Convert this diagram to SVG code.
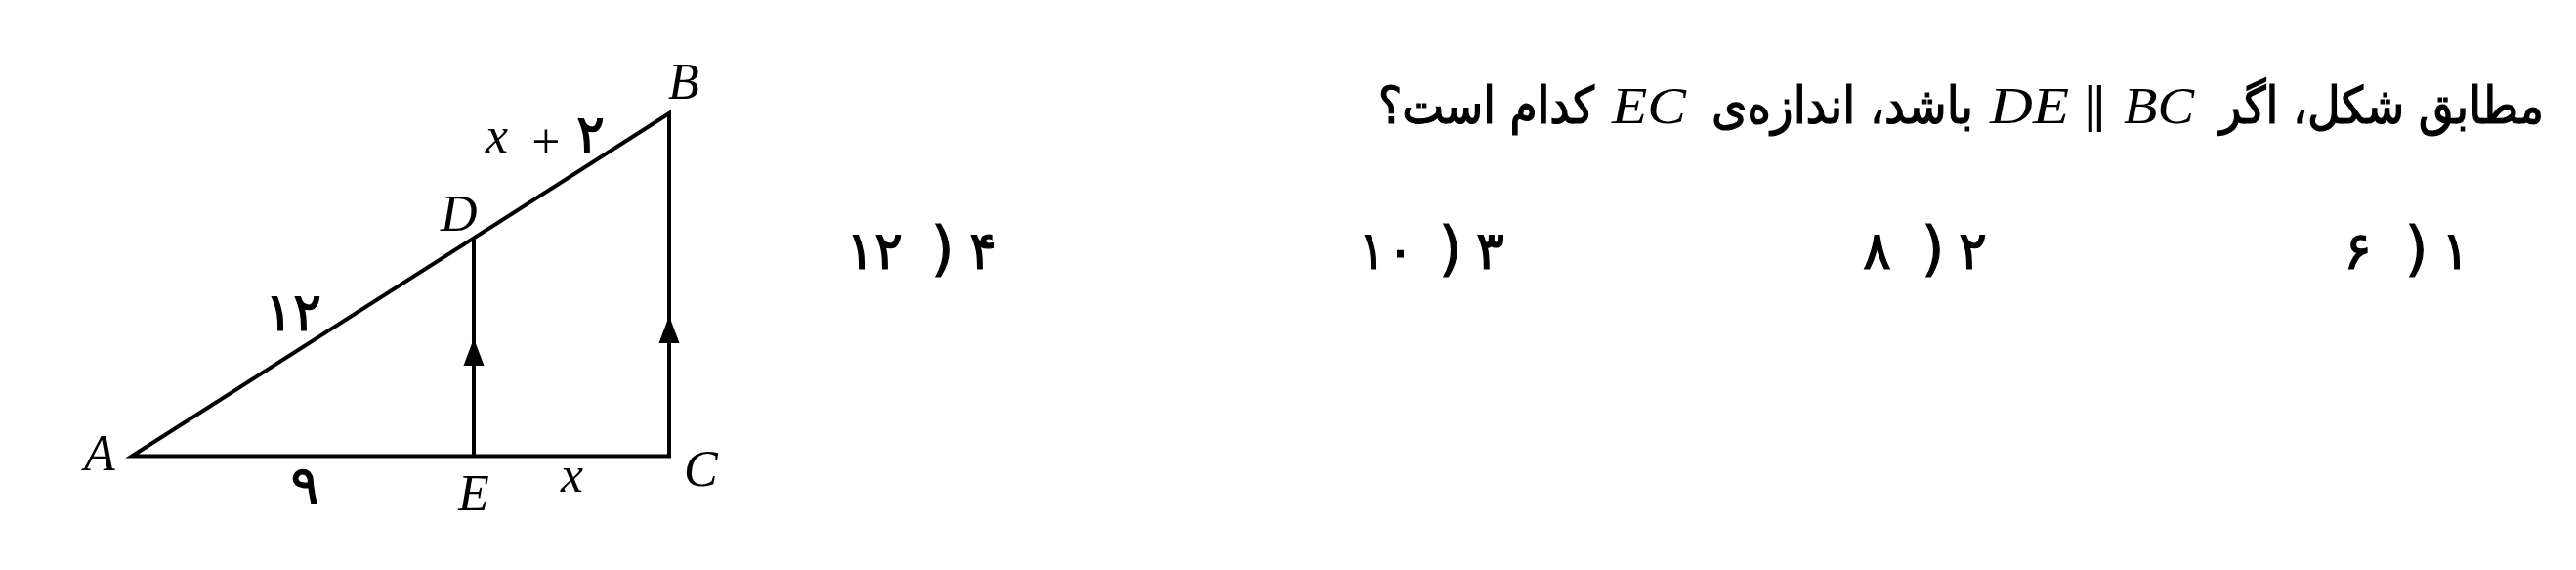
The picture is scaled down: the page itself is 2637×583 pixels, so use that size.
<svg xmlns="http://www.w3.org/2000/svg" width="2637" height="583" viewBox="0 0 2637 583">
<style>
.ln{stroke:#000;stroke-width:4;fill:none;stroke-linejoin:miter}
.m{font-family:"Liberation Serif","DejaVu Serif",serif;font-style:italic;font-size:52px;fill:#000}
.r{font-family:"Liberation Serif","DejaVu Serif",serif;font-size:52px;fill:#000}
.fa{font-family:"DejaVu Sans",sans-serif;font-size:54px;fill:#000;stroke:#000;stroke-width:1.2}
.q{font-family:"DejaVu Sans Condensed","DejaVu Sans",sans-serif;font-size:52px}
</style>
<defs><path id="arr" d="M0,0 L-10.5,28 L10.5,28 Z" fill="#000"/></defs>
<rect width="2637" height="583" fill="#fff"/>
<g id="connectors">
<path class="ln" d="M135,466.5 L685,116 L685,466.5 Z"/>
<line class="ln" x1="485" y1="466.5" x2="485" y2="244.5"/>
<use href="#arr" x="485" y="346"/>
<use href="#arr" x="685" y="323"/>
</g>
<g id="nodeA"><text class="m" x="86" y="481">A</text></g>
<g id="nodeB"><text class="m" x="684" y="101">B</text></g>
<g id="nodeC"><text class="m" x="700" y="497">C</text></g>
<g id="nodeD"><text class="m" x="451" y="236">D</text></g>
<g id="nodeE"><text class="m" x="469" y="522">E</text></g>
<g id="labelAD"><text class="fa" x="300" y="338" text-anchor="middle">۱۲</text></g>
<g id="labelDB"><text class="m" x="497" y="156">x</text><text class="r" x="559" y="162" text-anchor="middle" font-size="72">+</text><text class="fa" x="604.5" y="156" text-anchor="middle">۲</text></g>
<g id="labelAE"><text class="fa" x="312" y="515" text-anchor="middle" font-size="46">۹</text></g>
<g id="labelEC"><text class="m" x="574" y="503">x</text></g>
<g id="question">
<text class="fa q" x="2272" y="126" textLength="332" lengthAdjust="spacingAndGlyphs">مطابق شکل، اگر</text>
<text class="m" x="2174" y="126" textLength="72" lengthAdjust="spacingAndGlyphs">BC</text>
<text class="r" x="2144" y="130" text-anchor="middle" font-family="DejaVu Sans">∥</text>
<text class="m" x="2037" y="126" textLength="81" lengthAdjust="spacingAndGlyphs">DE</text>
<text class="fa q" x="1752" y="126" textLength="268" lengthAdjust="spacingAndGlyphs">باشد، اندازه‌ی</text>
<text class="m" x="1650" y="126" textLength="76" lengthAdjust="spacingAndGlyphs">EC</text>
<text class="fa q" x="1411" y="126" textLength="221" lengthAdjust="spacingAndGlyphs">کدام است؟</text>
</g>
<g id="opt1"><text class="fa" y="275"><tspan x="2399">۶</tspan><tspan x="2462" font-size="60">)</tspan><tspan x="2499">۱</tspan></text></g>
<g id="opt2"><text class="fa" y="275"><tspan x="1907">۸</tspan><tspan x="1967" font-size="60">)</tspan><tspan x="2005">۲</tspan></text></g>
<g id="opt3"><text class="fa" y="275"><tspan x="1390">۱۰</tspan><tspan x="1473" font-size="60">)</tspan><tspan x="1511">۳</tspan></text></g>
<g id="opt4"><text class="fa" y="275"><tspan x="866">۱۲</tspan><tspan x="953" font-size="60">)</tspan><tspan x="992">۴</tspan></text></g>
</svg>
